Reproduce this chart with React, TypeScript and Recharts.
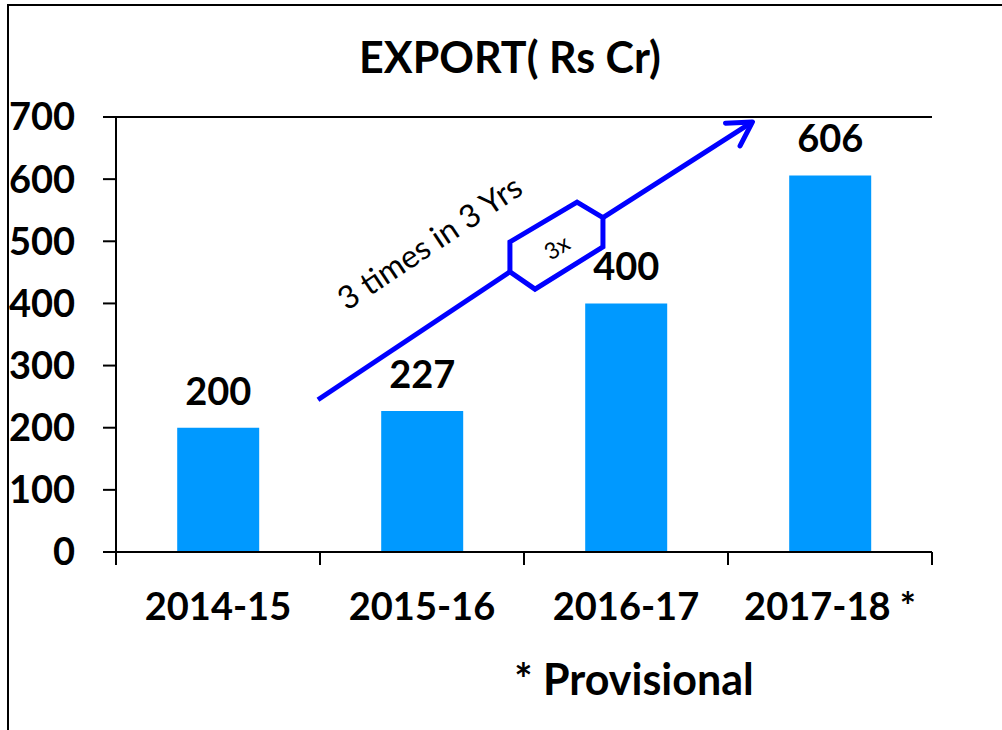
import React from 'react';
import { BarChart, Bar, XAxis, YAxis, CartesianGrid, ReferenceLine, LabelList } from 'recharts';

// chart values
const years = ['2014-15', '2015-16', '2016-17', '2017-18 *'];
const exportValues = [200, 227, 400, 606];
const yTicks = [0, 100, 200, 300, 400, 500, 600, 700];

const data = years.map((year, i) => ({ year, value: exportValues[i] }));

const WIDTH = 1002;
const HEIGHT = 730;
const FONT = "Lato, 'Noto Sans', sans-serif";
const BAR_COLOR = '#0099ff';
const ARROW_COLOR = '#0000ff';

// plot box (matches margins + axis sizes below)
const PLOT = { x: 116, y: 117, w: 816, h: 435 };
const BAND = PLOT.w / years.length;
const Y_MAX = 700;

// annotation path in (category units, value units)
const ax = (u: number) => PLOT.x + u * BAND;
const ay = (v: number) => PLOT.y + PLOT.h * (1 - v / Y_MAX);
const arrowStart = [0.99, 245];
const hexagon = [
  [1.931, 451],
  [1.931, 499],
  [2.26, 563],
  [2.387, 538],
  [2.387, 491],
  [2.054, 423],
];
const arrowEnd = [3.12, 692];

function CategoryTick(props: any) {
  const { x, payload, index } = props;
  const bottom = PLOT.y + PLOT.h;
  const left = x - BAND / 2;
  return (
    <g>
      <line x1={left} x2={left} y1={bottom} y2={bottom + 13} stroke="#000" strokeWidth={2} />
      {index === years.length - 1 && (
        <line x1={left + BAND} x2={left + BAND} y1={bottom} y2={bottom + 13} stroke="#000" strokeWidth={2} />
      )}
      <text x={x} y={bottom + 68} textAnchor="middle" fontFamily={FONT} fontWeight={700} fontSize={38} fill="#000">
        {payload.value}
      </text>
    </g>
  );
}

function ValueLabel(props: any) {
  const { x, y, width, value } = props;
  return (
    <text x={Number(x) + Number(width) / 2} y={Number(y) - 23} textAnchor="middle" fontFamily={FONT} fontWeight={700} fontSize={38} fill="#000">
      {value}
    </text>
  );
}

function Annotation() {
  const [sx, sy] = [ax(arrowStart[0]), ay(arrowStart[1])];
  const hex = hexagon.map(([u, v]) => [ax(u), ay(v)]);
  const [ex, ey] = [ax(arrowEnd[0]), ay(arrowEnd[1])];
  const join = hex[3];
  const ang = Math.atan2(ey - join[1], ex - join[0]);
  const barb = 27;
  const b1 = [ex - barb * Math.cos(ang - Math.PI / 6), ey - barb * Math.sin(ang - Math.PI / 6)];
  const b2 = [ex - barb * Math.cos(ang + Math.PI / 6), ey - barb * Math.sin(ang + Math.PI / 6)];
  const deg = (Math.atan2(hex[0][1] - sy, hex[0][0] - sx) * 180) / Math.PI;
  const hexCx = (hex[1][0] + hex[4][0]) / 2;
  const hexCy = (hex[0][1] + hex[3][1]) / 2 + 2;
  return (
    <g fill="none" stroke={ARROW_COLOR} strokeWidth={5} strokeLinejoin="miter">
      <line x1={sx} y1={sy} x2={hex[0][0]} y2={hex[0][1]} />
      <polygon points={hex.map((p) => p.join(',')).join(' ')} />
      <line x1={join[0]} y1={join[1]} x2={ex} y2={ey} />
      <polyline points={`${b1[0]},${b1[1]} ${ex},${ey} ${b2[0]},${b2[1]}`} strokeLinecap="round" strokeLinejoin="round" />
      <text
        x={436}
        y={252}
        transform={`rotate(${deg}, 436, 252)`}
        textAnchor="middle"
        fontFamily={FONT}
        fontSize={32}
        fill="#000"
        stroke="none"
      >
        3 times in 3 Yrs
      </text>
      <text
        x={hexCx}
        y={hexCy}
        transform={`rotate(${deg + 2}, ${hexCx}, ${hexCy})`}
        textAnchor="middle"
        dominantBaseline="central"
        fontFamily={FONT}
        fontSize={23}
        fill="#000"
        stroke="none"
      >
        3x
      </text>
    </g>
  );
}

export default function App() {
  return (
    <div style={{ position: 'relative', width: WIDTH, height: HEIGHT, overflow: 'hidden', background: '#fff' }}>
      <style>{'body{margin:0}'}</style>
      <div
        style={{
          position: 'absolute',
          left: 7,
          top: 4,
          width: WIDTH + 20,
          height: HEIGHT + 20,
          border: '2px solid #000',
          boxSizing: 'border-box',
        }}
      />
      <div style={{ position: 'absolute', left: 0, top: 0 }}>
        <BarChart
          width={WIDTH}
          height={HEIGHT}
          data={data}
          margin={{ top: 117, right: 70, bottom: 118, left: 0 }}
          barCategoryGap="30%"
        >
          <CartesianGrid vertical={false} stroke="#8c8c8c" strokeWidth={2} />
          <XAxis
            dataKey="year"
            height={60}
            interval={0}
            tickLine={false}
            axisLine={{ stroke: '#000', strokeWidth: 2 }}
            tick={<CategoryTick />}
          />
          <YAxis
            yAxisId="left"
            width={116}
            domain={[0, Y_MAX]}
            ticks={yTicks}
            interval={0}
            tickSize={13}
            tickMargin={28}
            stroke="#000"
            axisLine={{ stroke: '#000', strokeWidth: 2 }}
            tickLine={{ stroke: '#000', strokeWidth: 2 }}
            tick={{ fill: '#000', fontFamily: FONT, fontWeight: 700, fontSize: 38 }}
          />
          <YAxis
            yAxisId="right"
            orientation="right"
            width={0}
            domain={[0, Y_MAX]}
            tick={false}
            tickLine={false}
            axisLine={{ stroke: '#000', strokeWidth: 2 }}
          />
          <ReferenceLine yAxisId="left" y={Y_MAX} stroke="#000" strokeWidth={2} />
          <Bar yAxisId="left" dataKey="value" fill={BAR_COLOR} isAnimationActive={false}>
            <LabelList dataKey="value" content={<ValueLabel />} />
          </Bar>
        </BarChart>
      </div>
      <svg width={WIDTH} height={HEIGHT} style={{ position: 'absolute', left: 0, top: 0, pointerEvents: 'none' }}>
        <text x={510} y={73} textAnchor="middle" fontFamily={FONT} fontWeight={700} fontSize={43} fill="#000">
          EXPORT( Rs Cr)
        </text>
        <Annotation />
        <text x={634} y={695} textAnchor="middle" fontFamily={FONT} fontWeight={700} fontSize={43} fill="#000">
          * Provisional
        </text>
      </svg>
    </div>
  );
}
